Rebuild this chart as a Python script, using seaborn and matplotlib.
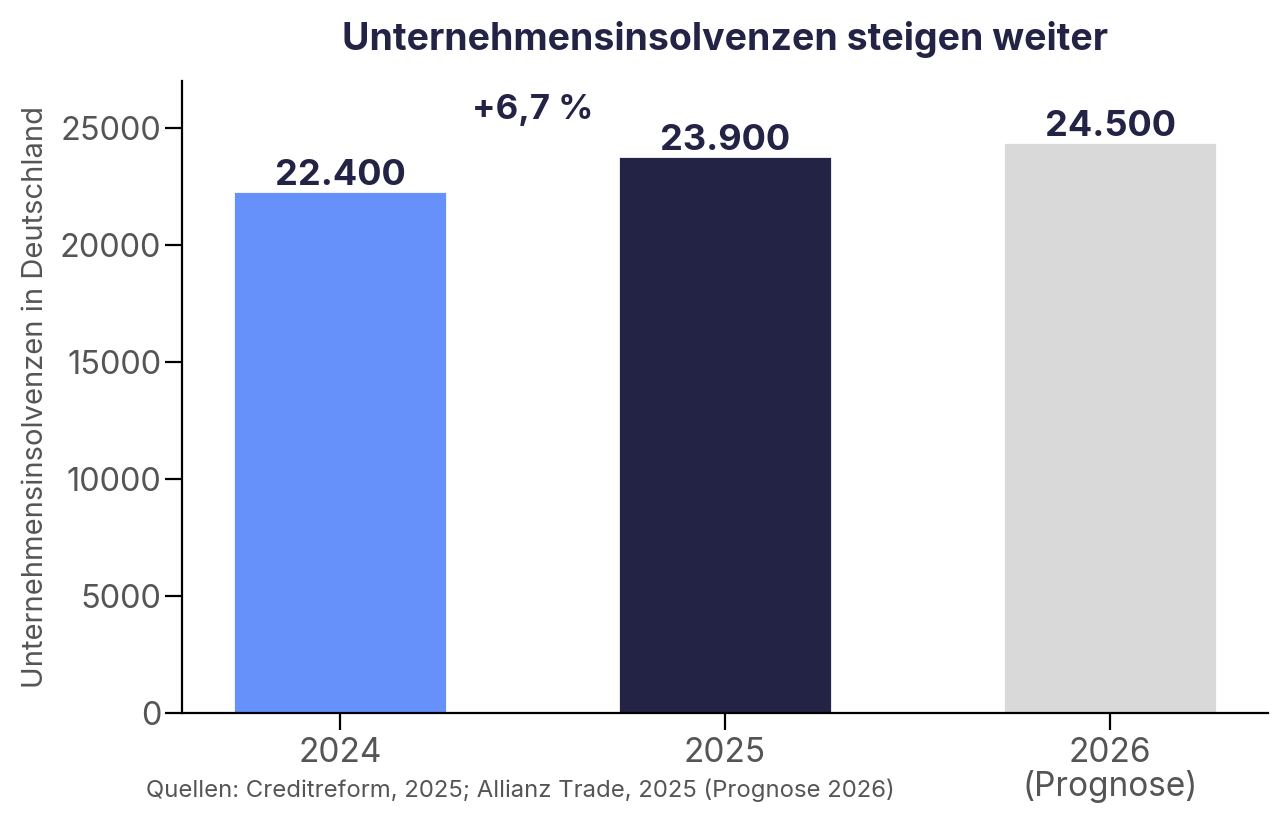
import numpy as np
import pandas as pd
import matplotlib.pyplot as plt
import seaborn as sns

years = ['2024', '2025', '2026\n(Prognose)']
insolvencies = [22300, 23800, 24400]
bar_labels = ['22.400', '23.900', '24.500']
bar_colors = ['#6691fa', '#222345', '#d9d9d9']
change_label = '+6,7 %'
title = 'Unternehmensinsolvenzen steigen weiter'
y_label = 'Unternehmensinsolvenzen in Deutschland'
source = 'Quellen: Creditreform, 2025; Allianz Trade, 2025 (Prognose 2026)'

navy = '#222345'
grey = '#555555'

sns.set_theme(style='ticks', rc={'axes.linewidth': 0.8, 'xtick.major.width': 0.8,
                                 'ytick.major.width': 0.8})
plt.rcParams['font.family'] = ['Inter', 'DejaVu Sans']

df = pd.DataFrame({'year': years, 'value': insolvencies})

fig = plt.figure(figsize=(6.44, 4.12), dpi=200)
ax = fig.add_axes([0.1413, 0.1347, 0.8432, 0.767])

sns.barplot(
    data = df,
    x = 'year',
    y = 'value',
    hue = 'year',
    palette = bar_colors,
    saturation = 1,
    width = 0.555,
    legend = False,
    ax = ax
)

# value labels on top of the bars
for i, (v, lab) in enumerate(zip(insolvencies, bar_labels)):
    ax.annotate(lab, (i, v), xytext=(0, -0.5), textcoords='offset points',
                ha='center', va='bottom', fontsize=13, fontweight='bold',
                color=navy)

ax.text(0.5, 25750, change_label, ha='center', va='center', fontsize=12.5,
        fontweight='bold', color=navy)

ax.set_xlim(-0.41, 2.41)
ax.set_ylim(0, 27000)
ax.set_yticks(np.arange(0, 25001, 5000))
ax.set_xlabel('')
ax.set_ylabel(y_label, fontsize=10.5, color=grey, labelpad=4)
ax.set_title(title, fontsize=13.5, fontweight='bold', color=navy, pad=11)

ax.tick_params(axis='both', labelcolor=grey, color='black')
ax.tick_params(axis='x', labelsize=12, pad=2.5)
ax.tick_params(axis='y', labelsize=11.7, pad=1.5)
for lab in ax.get_xticklabels():
    lab.set_linespacing(1.05)

sns.despine(ax=ax)
for s in ['left', 'bottom']:
    ax.spines[s].set_color('black')

fig.text(520 / 1288, 1 - 790 / 824, source, ha='center', va='center',
         fontsize=8.6, color=grey)

fig.savefig('out.png', dpi=200)
